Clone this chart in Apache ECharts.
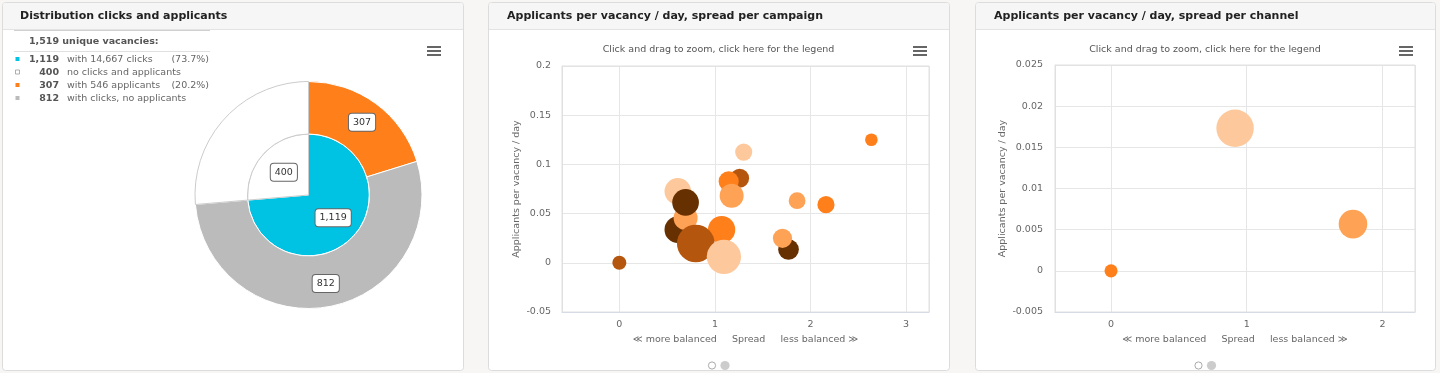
<!DOCTYPE html>
<html><head><meta charset="utf-8">
<script src="https://cdn.jsdelivr.net/npm/echarts@6/dist/echarts.min.js"></script>
<style>html,body{margin:0;padding:0;background:#f7f6f5;}#c{width:1440px;height:373px;}</style>
</head><body><div id="c"></div>
<script>
// ---------- data ----------
const totalVacancies = 1519;
const innerNames = ['with clicks', 'no clicks and applicants'];
const innerValues = [1119, 400];
const outerNames = ['with applicants', 'with clicks, no applicants', 'no clicks and applicants'];
const outerValues = [307, 812, 400];
const outerLabelShown = [true, true, false];

const legendCounts = ['1,119', '400', '307', '812'];
const legendTexts = ['with 14,667 clicks', 'no clicks and applicants', 'with 546 applicants', 'with clicks, no applicants'];
const legendPercents = ['(73.7%)', '', '(20.2%)', ''];

// campaigns: spread (x), applicants per vacancy / day (y), vacancies (z), colour slot
const campaignX = [0.612, 0.612, 0.693, 0.693, 1.07, 0.80, 1.094, 1.259, 1.144, 1.175, 1.770, 1.707, 1.301, 1.860, 2.162, 2.637, 0];
const campaignY = [0.0337, 0.0726, 0.0456, 0.0614, 0.0337, 0.0196, 0.0061, 0.0859, 0.0827, 0.0682, 0.0135, 0.0249, 0.1125, 0.0631, 0.0591, 0.125, 0];
const campaignZ = [58, 58, 47, 58, 61, 116, 96, 29, 33, 47, 35, 30, 24, 23, 24, 13, 16];
const campaignSlot = [0, 4, 3, 0, 2, 1, 4, 1, 2, 3, 0, 3, 4, 3, 2, 2, 1];

// channels
const channelX = [0, 0.914, 1.783];
const channelY = [0, 0.01732, 0.00568];
const channelZ = [14, 114, 67];
const channelSlot = [2, 4, 3];

const campaignYTicks = [-0.05, 0, 0.05, 0.1, 0.15, 0.2];
const channelYTicks = [-0.005, 0, 0.005, 0.01, 0.015, 0.02, 0.025];
const campaignXExtent = [-0.6, 3.24];
const channelXExtent = [-0.413, 2.24];

// ---------- styles ----------
const FONT = '"DejaVu Sans", Verdana, sans-serif';
const FS = 9.5;
const palette = ['#663000', '#b5560e', '#ff7f1b', '#fea255', '#fdc99c'];
const pieColors = { cyan: '#00c3e3', white: '#ffffff', orange: '#ff7f1b', gray: '#bbbbbb' };
const panels = [[2, 463], [488, 949], [975, 1435]];
const titles = ['Distribution clicks and applicants', 'Applicants per vacancy / day, spread per campaign', 'Applicants per vacancy / day, spread per channel'];

function txt(x, y, text, opts) {
  opts = opts || {};
  const align = opts.align || 'left';
  return {
    type: 'text', x: x, y: y, silent: true, z: 100,
    style: {
      text: text, fill: opts.color || '#666',
      font: (opts.bold ? 'bold ' : '') + (opts.size || FS) + 'px ' + FONT,
      textAlign: align, align: align,
      textVerticalAlign: 'middle', verticalAlign: 'middle'
    }
  };
}

const graphics = [];
panels.forEach(function (p, i) {
  const w = p[1] - p[0];
  graphics.push({ type: 'rect', z: 0, silent: true, shape: { x: p[0] + 0.5, y: 2.5, width: w, height: 368, r: 3 }, style: { fill: '#ffffff', stroke: '#dcdcdc', lineWidth: 1 } });
  graphics.push({ type: 'rect', z: 1, silent: true, shape: { x: p[0] + 1, y: 3, width: w - 1, height: 26, r: [3, 3, 0, 0] }, style: { fill: '#f6f6f6' } });
  graphics.push({ type: 'line', z: 2, silent: true, shape: { x1: p[0] + 1, y1: 29.5, x2: p[1], y2: 29.5 }, style: { stroke: '#e3e3e3', lineWidth: 1 } });
  graphics.push(txt(p[0] + (i === 0 ? 18 : 19), 16, titles[i], { bold: true, size: 11, color: '#222' }));
  // hamburger icon
  const hx = p[1] - 36;
  [47, 51, 55].forEach(function (hy) {
    graphics.push({ type: 'rect', z: 5, silent: true, shape: { x: hx, y: hy - 1, width: 14, height: 2 }, style: { fill: '#666' } });
  });
  if (i > 0) {
    const cx = (p[0] + p[1]) / 2;
    graphics.push(txt(cx, 50, 'Click and drag to zoom, click here for the legend', { align: 'center', color: '#555' }));
    graphics.push({ type: 'circle', z: 5, silent: true, shape: { cx: cx - 6.5, cy: 365.5, r: 3.6 }, style: { fill: '#fff', stroke: '#aaa', lineWidth: 1 } });
    graphics.push({ type: 'circle', z: 5, silent: true, shape: { cx: cx + 6.5, cy: 365.5, r: 4.6 }, style: { fill: '#cccccc' } });
  }
});

// legend table in panel 1
graphics.push({ type: 'line', z: 3, silent: true, shape: { x1: 14, y1: 30.5, x2: 210, y2: 30.5 }, style: { stroke: '#d0d0d0', lineWidth: 1 } });
graphics.push(txt(29, 42, totalVacancies.toLocaleString('en-US') + ' unique vacancies:', { bold: true, color: '#555' }));
graphics.push({ type: 'line', z: 3, silent: true, shape: { x1: 14, y1: 51.5, x2: 210, y2: 51.5 }, style: { stroke: '#e0e0e0', lineWidth: 1 } });
const legendSwatches = [pieColors.cyan, pieColors.white, pieColors.orange, pieColors.gray];
const legendRowY = [59.5, 72.5, 85.5, 98.5];
legendCounts.forEach(function (c, i) {
  const y = legendRowY[i];
  graphics.push({ type: 'rect', z: 5, silent: true, shape: { x: 15.5, y: y - 2.5, width: 4, height: 4 },
    style: { fill: legendSwatches[i], stroke: i === 1 ? '#999' : legendSwatches[i], lineWidth: i === 1 ? 0.8 : 0 } });
  graphics.push(txt(59, y, c, { align: 'right', bold: true, color: '#555' }));
  graphics.push(txt(67, y, legendTexts[i], { color: '#666' }));
  if (legendPercents[i]) graphics.push(txt(209, y, legendPercents[i], { align: 'right', color: '#666' }));
});

const pieLabel = {
  show: true, position: 'inside', fontFamily: FONT, fontSize: FS, color: '#333',
  backgroundColor: '#fff', borderColor: '#666', borderWidth: 1, borderRadius: 3, padding: [4, 4, 3, 4],
  formatter: function (p) { return p.value.toLocaleString('en-US'); }
};
const innerColors = [pieColors.cyan, pieColors.white];
const outerColors = [pieColors.orange, pieColors.gray, pieColors.white];

function bubbleSize(v) { return 3.5 * Math.sqrt(v[2]); }

const axisLabelStyle = { fontFamily: FONT, fontSize: FS, color: '#666' };
const axisNameStyle = { fontFamily: FONT, fontSize: FS, color: '#666' };
const xName = '\u226A more balanced     Spread     less balanced \u226B';

const option = {
  animation: false,
  graphic: { elements: graphics },
  grid: [
    { left: 562, top: 66, width: 367, height: 246, show: true, borderColor: '#e0e0e0', borderWidth: 1, z: 3 },
    { left: 1055, top: 65, width: 360, height: 247, show: true, borderColor: '#e0e0e0', borderWidth: 1, z: 3 }
  ],
  xAxis: [
    { gridIndex: 0, type: 'value', min: campaignXExtent[0], max: campaignXExtent[1], splitNumber: 4, minInterval: 1, maxInterval: 1,
      axisLine: { show: true, onZero: false, lineStyle: { color: '#ccd6eb' } }, axisTick: { show: false },
      axisLabel: Object.assign({ margin: 8, showMinLabel: false, showMaxLabel: false }, axisLabelStyle),
      splitLine: { show: true, lineStyle: { color: '#e6e6e6' } },
      name: xName, nameLocation: 'middle', nameGap: 23, nameTextStyle: axisNameStyle },
    { gridIndex: 1, type: 'value', min: channelXExtent[0], max: channelXExtent[1], splitNumber: 3, minInterval: 1, maxInterval: 1,
      axisLine: { show: true, onZero: false, lineStyle: { color: '#ccd6eb' } }, axisTick: { show: false },
      axisLabel: Object.assign({ margin: 8, showMinLabel: false, showMaxLabel: false }, axisLabelStyle),
      splitLine: { show: true, lineStyle: { color: '#e6e6e6' } },
      name: xName, nameLocation: 'middle', nameGap: 23, nameTextStyle: axisNameStyle }
  ],
  yAxis: [
    { gridIndex: 0, type: 'value', min: campaignYTicks[0], max: campaignYTicks[campaignYTicks.length - 1], interval: campaignYTicks[1] - campaignYTicks[0],
      axisLine: { show: true, onZero: false, lineStyle: { color: '#e0e0e0' } }, axisTick: { show: false },
      axisLabel: Object.assign({ margin: 11, formatter: function (v) { return String(+v.toFixed(4)); } }, axisLabelStyle),
      splitLine: { show: true, lineStyle: { color: '#e6e6e6' } },
      name: 'Applicants per vacancy / day', nameLocation: 'middle', nameGap: 40, nameTextStyle: axisNameStyle },
    { gridIndex: 1, type: 'value', min: channelYTicks[0], max: channelYTicks[channelYTicks.length - 1], interval: channelYTicks[1] - channelYTicks[0],
      axisLine: { show: true, onZero: false, lineStyle: { color: '#e0e0e0' } }, axisTick: { show: false },
      axisLabel: Object.assign({ margin: 12, formatter: function (v) { return String(+v.toFixed(5)); } }, axisLabelStyle),
      splitLine: { show: true, lineStyle: { color: '#e6e6e6' } },
      name: 'Applicants per vacancy / day', nameLocation: 'middle', nameGap: 47, nameTextStyle: axisNameStyle }
  ],
  series: [
    { type: 'pie', name: 'inner', center: [308.5, 195], radius: [0, 61], startAngle: 90, clockwise: true, silent: true,
      label: pieLabel, labelLine: { show: false },
      data: innerValues.map(function (v, i) {
        return { name: innerNames[i], value: v, itemStyle: { color: innerColors[i], borderColor: innerColors[i] === '#ffffff' ? '#cccccc' : '#ffffff', borderWidth: 1 } };
      }) },
    { type: 'pie', name: 'outer', center: [308.5, 195], radius: [61, 113.5], startAngle: 90, clockwise: true, silent: true,
      label: pieLabel, labelLine: { show: false },
      data: outerValues.map(function (v, i) {
        return { name: outerNames[i], value: v, label: { show: outerLabelShown[i] },
          itemStyle: { color: outerColors[i], borderColor: outerColors[i] === '#ffffff' ? '#cccccc' : '#ffffff', borderWidth: 1 } };
      }) },
    { type: 'scatter', name: 'campaigns', xAxisIndex: 0, yAxisIndex: 0, z: 4,
      data: campaignX.map(function (x, i) { return [x, campaignY[i], campaignZ[i]]; }),
      symbolSize: bubbleSize,
      itemStyle: { opacity: 1, color: function (p) { return palette[campaignSlot[p.dataIndex]]; } } },
    { type: 'scatter', name: 'channels', xAxisIndex: 1, yAxisIndex: 1, z: 4,
      data: channelX.map(function (x, i) { return [x, channelY[i], channelZ[i]]; }),
      symbolSize: bubbleSize,
      itemStyle: { opacity: 1, color: function (p) { return palette[channelSlot[p.dataIndex]]; } } }
  ]
};

const chart = echarts.init(document.getElementById('c'), null, { renderer: 'canvas' });
chart.setOption(option);
</script>
</body></html>
